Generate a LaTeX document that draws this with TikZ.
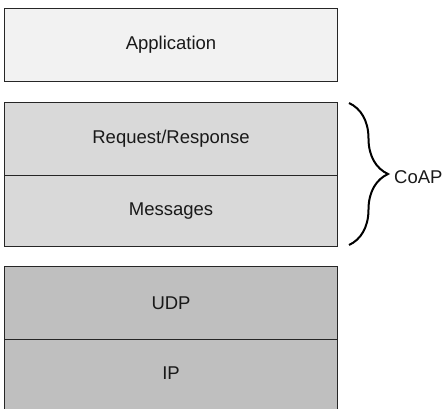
\documentclass[tikz,border=0pt]{standalone}
\usepackage{fontspec}
\setmainfont{Liberation Sans}
\usetikzlibrary{decorations.pathreplacing}
\definecolor{appfill}{HTML}{F2F2F2}
\definecolor{coapfill}{HTML}{D9D9D9}
\definecolor{netfill}{HTML}{BFBFBF}
\begin{document}
\begin{tikzpicture}[x=1pt,y=-1pt,
  layer/.style={draw=black!85, line width=1.1pt, anchor=north west, inner sep=0pt,
    minimum width=333pt, text=black!90,
    font=\fontsize{18.5}{22}\selectfont},
  bracestyle/.style={decorate, decoration={brace, amplitude=39pt}, line width=2pt, black},
  lbl/.style={font=\fontsize{18.5}{22}\selectfont, text=black!90, inner sep=0pt, anchor=west}]
\useasboundingbox (0,0) rectangle (444,408);
\node[layer, fill=appfill, minimum height=73pt] (app) at (4,8) {Application};
\node[layer, fill=coapfill, minimum height=73pt] (rr) at (4,102) {Request/Response};
\node[layer, fill=coapfill, minimum height=71pt] (msg) at (4,175) {Messages};
\node[layer, fill=netfill, minimum height=73pt] (udp) at (4,266) {UDP};
\node[layer, fill=netfill, minimum height=73pt, text depth=6pt] (ip) at (4,339) {IP};
\coordinate (bt) at (349,103);
\coordinate (bb) at (349,245);
\draw[bracestyle] (bt) -- (bb);
\node[lbl] (coap) at (394,177) {CoAP};
\end{tikzpicture}
\end{document}
